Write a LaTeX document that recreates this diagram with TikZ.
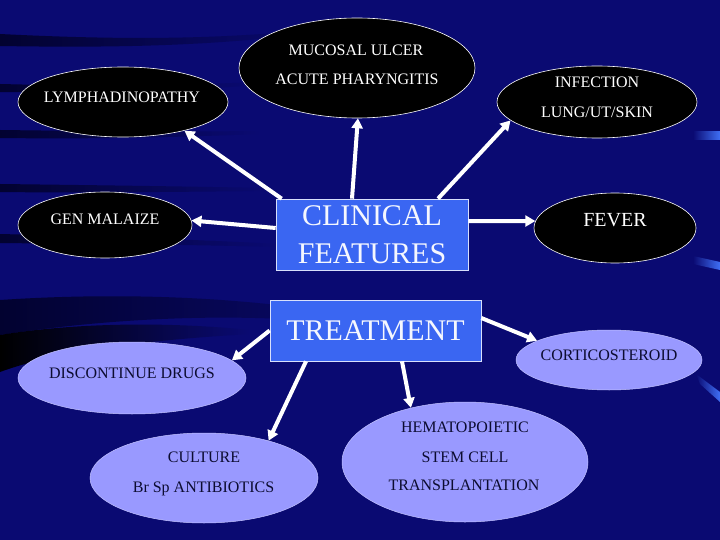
\documentclass[tikz,border=0pt]{standalone}
\usepackage{fontspec}
\setmainfont{Liberation Serif}
\usetikzlibrary{shapes.geometric,arrows.meta}
\definecolor{bg}{HTML}{0A0A72}
\definecolor{bgdark}{HTML}{020230}
\definecolor{boxblue}{HTML}{3A66F2}
\definecolor{lav}{HTML}{9999FF}
\definecolor{navytext}{HTML}{0C0C30}
\definecolor{edgeblue}{HTML}{3F6FF5}
\begin{document}
\begin{tikzpicture}[x=1pt,y=-1pt,
  blackell/.style={ellipse, draw=white, line width=0.6pt, fill=black, inner sep=0pt},
  lavell/.style={ellipse, fill=lav, draw=lav!60!white, line width=0.5pt, inner sep=0pt},
  wtxt/.style={text=white, font=\fontsize{16}{16}\selectfont, inner sep=0pt, text height=10.6pt, text depth=0pt},
  dtxt/.style={text=navytext, font=\fontsize{16}{16}\selectfont, inner sep=0pt, text height=10.6pt, text depth=0pt},
  bigbox/.style={rectangle, fill=boxblue, draw=white!80!boxblue, line width=0.7pt, text=white!95!boxblue, font=\fontsize{30}{38}\selectfont, align=center, inner sep=0pt},
  arr/.style={draw=white, line width=4pt, -{Triangle[length=10pt,width=11pt]}},
  band/.style={left color=bgdark, right color=bg}
]
% background
\fill[bg] (0,0) rectangle (720,540);
\useasboundingbox (0,0) rectangle (720,540);
\shade[band] (0,34) .. controls (120,40) and (220,40) .. (330,28) -- (330,31) .. controls (220,46) and (120,48) .. (0,46) -- cycle;
\shade[band] (0,84) .. controls (80,86) and (160,86) .. (260,82) -- (260,85) .. controls (160,92) and (80,93) .. (0,92) -- cycle;
\shade[band] (0,130) .. controls (80,131) and (160,132) .. (260,131) -- (260,134) .. controls (160,138) and (80,139) .. (0,138) -- cycle;
\shade[band] (0,184) .. controls (80,185) and (160,186) .. (270,188) -- (270,191) .. controls (160,192) and (80,193) .. (0,192) -- cycle;
\shade[band] (0,234) .. controls (80,236) and (160,238) .. (280,244) -- (280,247) .. controls (160,244) and (80,244) .. (0,243) -- cycle;
\shade[band] (0,300) .. controls (150,290) and (300,300) .. (420,330) -- (420,334) .. controls (300,312) and (150,312) .. (0,335) -- cycle;
\shade[left color=black, right color=bg] (0,335) .. controls (60,325) and (150,320) .. (250,330) -- (250,334) .. controls (150,340) and (60,350) .. (0,372) -- cycle;
% right edge streaks
\shade[left color=bg, right color=edgeblue] (693,132) rectangle (720,140);
\shade[left color=bg, right color=edgeblue] (693,256) -- (720,262) -- (720,270) -- (693,264) -- cycle;
\shade[left color=bg, right color=edgeblue] (696,374) -- (720,392) -- (720,402) -- (700,384) -- cycle;

% clinical features ellipses
\node[blackell, minimum width=236pt, minimum height=100pt] (muc) at (357,68) {};
\node[blackell, minimum width=210pt, minimum height=70pt] (lymph) at (123,102) {};
\node[blackell, minimum width=200pt, minimum height=72pt] (inf) at (597,102) {};
\node[blackell, minimum width=174pt, minimum height=66pt] (gen) at (105,225) {};
\node[blackell, minimum width=162pt, minimum height=70pt] (fever) at (615,228) {};

\node[wtxt] (mucT1) at (356,50) {MUCOSAL ULCER};
\node[wtxt] (mucT2) at (357,79) {ACUTE PHARYNGITIS};
\node[wtxt] (lymphT) at (122,97) {LYMPHADINOPATHY};
\node[wtxt] (infT1) at (597,82) {INFECTION};
\node[wtxt] (infT2) at (597,112) {LUNG/UT/SKIN};
\node[wtxt] (genT) at (105,219) {GEN MALAIZE};
\node[wtxt, font=\fontsize{20}{20}\selectfont, text height=13.2pt] (feverT) at (615,220) {FEVER};

% treatment ellipses
\node[lavell, minimum width=228pt, minimum height=72pt] (disc) at (132,378) {};
\node[lavell, minimum width=228pt, minimum height=90pt] (cul) at (204,478) {};
\node[lavell, minimum width=246pt, minimum height=120pt] (hem) at (465,462) {};
\node[lavell, minimum width=186pt, minimum height=60pt] (cor) at (609,360) {};

\node[dtxt] (discT) at (132,373) {DISCONTINUE DRUGS};
\node[dtxt] (culT1) at (204,457) {CULTURE};
\node[dtxt] (culT2) at (203.5,487) {Br Sp ANTIBIOTICS};
\node[dtxt] (hemT1) at (465,427) {HEMATOPOIETIC};
\node[dtxt] (hemT2) at (465,457) {STEM CELL};
\node[dtxt] (hemT3) at (464,485) {TRANSPLANTATION};
\node[dtxt] (corT) at (609,355) {CORTICOSTEROID};

% boxes
\node[bigbox, minimum width=192pt, minimum height=71pt] (cf) at (372,234.5) {CLINICAL\\FEATURES};
\node[bigbox, minimum width=211pt, minimum height=61pt] (tr) at (375.5,330.5) {TREATMENT};

% arrows
\draw[arr] ([xshift=6pt]cf.north west) -- (lymph.-25);
\draw[arr] ([xshift=-20pt]cf.north) -- (muc.-89);
\draw[arr] ([xshift=66pt]cf.north) -- (inf.192);
\draw[arr] ([yshift=6.5pt]cf.west) -- (gen.3);
\draw[arr] ([yshift=13.5pt]cf.east) -- (fever.175);
\draw[arr] (tr.west) -- (disc.10);
\draw[arr] ([xshift=-69.5pt]tr.south) -- (cul.30);
\draw[arr] ([xshift=26.5pt]tr.south) -- (hem.135);
\draw[arr] ([yshift=12.5pt]tr.east) -- (cor.165);
\end{tikzpicture}
\end{document}
